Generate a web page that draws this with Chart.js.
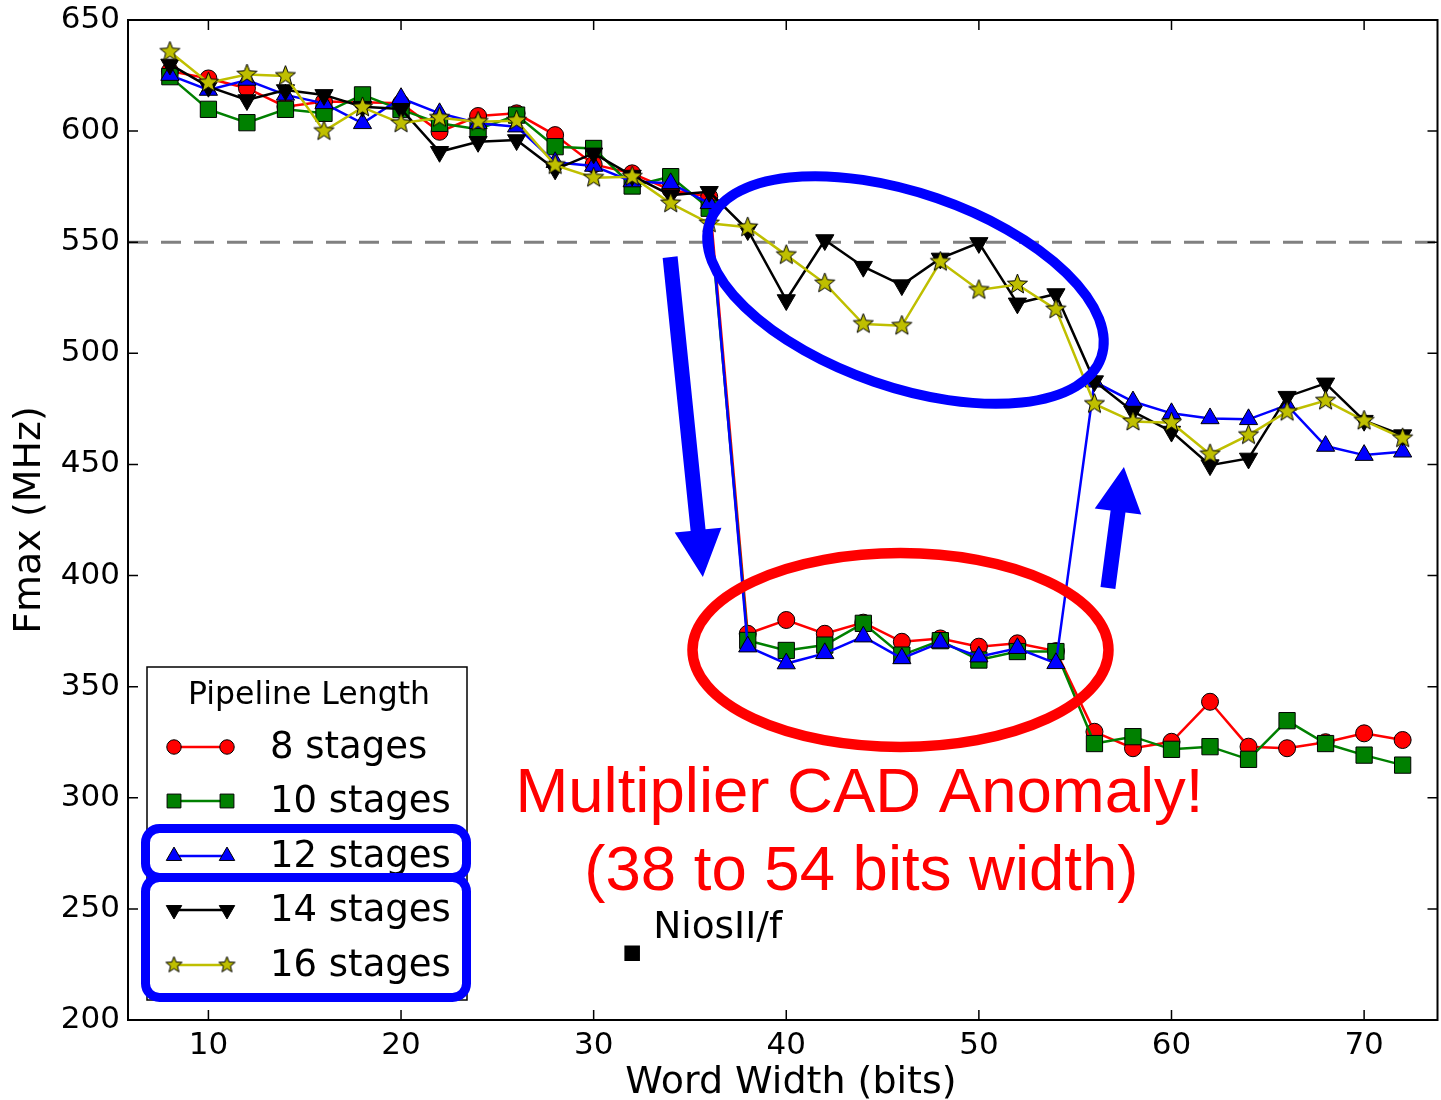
<!DOCTYPE html>
<html>
<head>
<meta charset="utf-8">
<script src="https://cdn.jsdelivr.net/npm/chart.js@4.4.1/dist/chart.umd.min.js"></script>
<style>
  html, body { margin: 0; padding: 0; background: #fff; overflow: hidden; }
</style>
</head>
<body>
<canvas id="fmaxChart" width="1450" height="1100"></canvas>
<script>
// word widths (bits)
const wordWidth = [8, 10, 12, 14, 16, 18, 20, 22, 24, 26, 28, 30, 32, 34, 36, 38, 40, 42, 44, 46, 48, 50, 52, 54, 56, 58, 60, 62, 64, 66, 68, 70, 72];

// Fmax (MHz) per pipeline length
const stages8 = [627, 623.7, 619.3, 611, 613.3, 613, 612.5, 599.7, 606.8, 608, 598.2, 585, 581, 573.5, 570.5,
  373.8, 380, 373.8, 378.8, 370.2, 371.7, 368, 369.5, 366,
  329.7, 322.3, 325.2, 343.2, 323, 322.3, 325, 329, 326];
const stages10 = [624.5, 609.8, 603.8, 609.8, 608, 616.3, 609.7, 603.5, 600.8, 607.2, 593, 592.2, 575.3, 579.5, 565.3,
  370.8, 366.3, 368.7, 378.5, 364.2, 370.7, 362, 365.8, 365.8,
  324.4, 327.5, 321.8, 323, 317.3, 334.7, 324.4, 319.2, 314.7];
const stages12 = [625.2, 618.5, 623, 616.3, 612.5, 603.5, 614.8, 608, 603.5, 602, 586, 584.3, 577.3, 576.5, 567.5,
  368, 360.4, 365, 372.5, 362.7, 369.8, 363.5, 367.3, 360.5,
  487.2, 478.3, 473, 470.7, 470.3, 476.7, 458.3, 454.2, 455.7];
const stages14 = [630, 620, 614, 618.5, 616.3, 611, 610, 590.7, 595.2, 596, 582.8, 590, 580, 571.2, 572.7,
  555.5, 524, 551, 539, 530.7, 542.7, 549.7, 522.5, 526.7,
  487.5, 473.8, 464.8, 449.7, 452.7, 480.5, 486.5, 469.7, 463.2];
const stages16 = [635.7, 621.8, 625.5, 624.8, 600, 610.7, 603.5, 606, 604.2, 604.7, 584.7, 579, 579.5, 567.5, 558.5,
  556.7, 544.2, 531.5, 513.2, 512.4, 541.2, 528.5, 531, 519.8,
  477.2, 469.3, 468.8, 454.6, 463.2, 473.7, 478.7, 469.7, 461.8];

const seriesLabels = ["8 stages", "10 stages", "12 stages", "14 stages", "16 stages"];

// NiosII/f reference point
const niosWidth = [32];
const niosFmax = [230];
const niosLabel = "NiosII/f";

// dashed reference line
const refFmax = 550;

const xTicks = [10, 20, 30, 40, 50, 60, 70];
const yTicks = [200, 250, 300, 350, 400, 450, 500, 550, 600, 650];

const FONT = "'DejaVu Sans', sans-serif";

function toPoints(xs, ys) {
  return xs.map((x, i) => ({ x: x, y: ys[i] }));
}

// filled star marker (Chart.js "star" is only an asterisk)
function makeStar(outer, fill) {
  const c = document.createElement("canvas");
  const s = Math.ceil(outer * 2 + 4);
  c.width = s;
  c.height = s;
  const g = c.getContext("2d");
  g.beginPath();
  for (let i = 0; i < 10; i++) {
    const r = i % 2 ? outer * 0.43 : outer;
    const a = -Math.PI / 2 + i * Math.PI / 5;
    g.lineTo(s / 2 + r * Math.cos(a), s / 2 + r * Math.sin(a));
  }
  g.closePath();
  g.fillStyle = fill;
  g.fill();
  g.strokeStyle = "#000";
  g.lineWidth = 1;
  g.stroke();
  return c;
}

const starBig = makeStar(10.5, "#bfbf00");
const starSmall = makeStar(8.5, "#bfbf00");

const styles = [
  { color: "#ff0000", fill: "#ff0000", point: "circle", radius: 8.5, rot: 0 },
  { color: "#008000", fill: "#008000", point: "rect", radius: 11.5, rot: 0 },
  { color: "#0000ff", fill: "#0000ff", point: "triangle", radius: 10.5, rot: 0 },
  { color: "#000000", fill: "#000000", point: "triangle", radius: 10.5, rot: 180 },
  { color: "#bfbf00", fill: "#bfbf00", point: starBig, radius: 10, rot: 0 }
];
const seriesData = [stages8, stages10, stages12, stages14, stages16];

const datasets = seriesData.map((vals, i) => ({
  label: seriesLabels[i],
  data: toPoints(wordWidth, vals),
  borderColor: styles[i].color,
  borderWidth: 2.5,
  backgroundColor: styles[i].fill,
  pointStyle: styles[i].point,
  pointRadius: styles[i].radius,
  pointRotation: styles[i].rot,
  pointBackgroundColor: styles[i].fill,
  pointBorderColor: "#000",
  pointBorderWidth: 1,
  tension: 0,
  order: 5 - i
}));

datasets.push({
  label: niosLabel,
  data: toPoints(niosWidth, niosFmax),
  showLine: false,
  pointStyle: "rect",
  pointRadius: 11,
  pointBackgroundColor: "#000",
  pointBorderColor: "#000",
  pointBorderWidth: 0,
  order: 0
});

// legend marker for the hand-drawn legend
function drawMarker(ctx, st, x, y, scale) {
  ctx.save();
  ctx.fillStyle = st.fill;
  ctx.strokeStyle = "#000";
  ctx.lineWidth = 1;
  ctx.beginPath();
  const r = st.radius * scale;
  if (st.point === "circle") {
    ctx.arc(x, y, r, 0, Math.PI * 2);
  } else if (st.point === "rect") {
    const h = r * Math.SQRT1_2;
    ctx.rect(x - h, y - h, 2 * h, 2 * h);
  } else if (st.point === "triangle") {
    const d = st.rot === 180 ? -1 : 1;
    for (let k = 0; k < 3; k++) {
      const a = k * 2 * Math.PI / 3;
      ctx.lineTo(x + Math.sin(a) * r, y - d * Math.cos(a) * r);
    }
    ctx.closePath();
  } else {
    ctx.drawImage(starSmall, x - starSmall.width / 2, y - starSmall.height / 2);
    ctx.restore();
    return;
  }
  ctx.fill();
  ctx.stroke();
  ctx.restore();
}

function drawArrow(ctx, x1, y1, x2, y2, shaftW, headW, headL) {
  const len = Math.hypot(x2 - x1, y2 - y1);
  const ux = (x2 - x1) / len, uy = (y2 - y1) / len;
  const nx = -uy, ny = ux;
  const bx = x2 - ux * headL, by = y2 - uy * headL;
  ctx.beginPath();
  ctx.moveTo(x1 + nx * shaftW / 2, y1 + ny * shaftW / 2);
  ctx.lineTo(bx + nx * shaftW / 2, by + ny * shaftW / 2);
  ctx.lineTo(bx + nx * headW / 2, by + ny * headW / 2);
  ctx.lineTo(x2, y2);
  ctx.lineTo(bx - nx * headW / 2, by - ny * headW / 2);
  ctx.lineTo(bx - nx * shaftW / 2, by - ny * shaftW / 2);
  ctx.lineTo(x1 - nx * shaftW / 2, y1 - ny * shaftW / 2);
  ctx.closePath();
  ctx.fill();
}

function roundRect(ctx, x, y, w, h, r) {
  ctx.beginPath();
  ctx.moveTo(x + r, y);
  ctx.arcTo(x + w, y, x + w, y + h, r);
  ctx.arcTo(x + w, y + h, x, y + h, r);
  ctx.arcTo(x, y + h, x, y, r);
  ctx.arcTo(x, y, x + w, y, r);
  ctx.closePath();
}

const decorPlugin = {
  id: "decor",
  beforeDatasetsDraw(chart) {
    const { ctx, chartArea: a, scales: { y } } = chart;
    const py = y.getPixelForValue(refFmax);
    ctx.save();
    ctx.strokeStyle = "#808080";
    ctx.lineWidth = 3;
    ctx.setLineDash([20, 13]);
    ctx.beginPath();
    ctx.moveTo(a.left, py);
    ctx.lineTo(a.right, py);
    ctx.stroke();
    ctx.restore();
  },
  afterDatasetsDraw(chart) {
    const { ctx, chartArea: a, scales: { x, y } } = chart;
    ctx.save();
    ctx.strokeStyle = "#000";
    ctx.lineWidth = 2;
    ctx.strokeRect(a.left, a.top, a.right - a.left, a.bottom - a.top);
    // inward ticks on all four sides
    ctx.lineWidth = 1.5;
    ctx.beginPath();
    xTicks.forEach(v => {
      const px = x.getPixelForValue(v);
      ctx.moveTo(px, a.bottom); ctx.lineTo(px, a.bottom - 10);
      ctx.moveTo(px, a.top); ctx.lineTo(px, a.top + 10);
    });
    yTicks.forEach(v => {
      const py = y.getPixelForValue(v);
      ctx.moveTo(a.left, py); ctx.lineTo(a.left + 10, py);
      ctx.moveTo(a.right, py); ctx.lineTo(a.right - 10, py);
    });
    ctx.stroke();

    // NiosII/f label
    ctx.fillStyle = "#000";
    ctx.font = "37.5px " + FONT;
    ctx.textAlign = "left";
    ctx.textBaseline = "alphabetic";
    ctx.fillText(niosLabel, x.getPixelForValue(niosWidth[0]) + 21, y.getPixelForValue(niosFmax[0]) - 15);
    ctx.restore();
  },
  afterDraw(chart) {
    const { ctx, chartArea: a, scales: { x, y } } = chart;
    ctx.save();

    // axis titles
    ctx.fillStyle = "#000";
    ctx.font = "38px " + FONT;
    ctx.textAlign = "center";
    ctx.textBaseline = "middle";
    ctx.fillText("Word Width (bits)", 791, 1083);
    ctx.save();
    ctx.translate(30, (a.top + a.bottom) / 2);
    ctx.rotate(-Math.PI / 2);
    ctx.font = "38px " + FONT;
    ctx.fillText("Fmax (MHz)", 0, 0);
    ctx.restore();

    // legend
    const lx = 147, ly = 667, lw = 320, lh = 333;
    ctx.fillStyle = "#fff";
    ctx.fillRect(lx, ly, lw, lh);
    ctx.strokeStyle = "#000";
    ctx.lineWidth = 1.5;
    ctx.strokeRect(lx, ly, lw, lh);
    ctx.fillStyle = "#000";
    ctx.font = "31.5px " + FONT;
    ctx.textAlign = "center";
    ctx.fillText("Pipeline Length", 309, 696);
    const rowY = [747, 801, 856, 910, 965];
    ctx.textAlign = "left";
    ctx.font = "37px " + FONT;
    seriesLabels.forEach((lab, i) => {
      const st = styles[i];
      ctx.strokeStyle = st.color;
      ctx.lineWidth = 2.5;
      ctx.beginPath();
      ctx.moveTo(174, rowY[i]);
      ctx.lineTo(227, rowY[i]);
      ctx.stroke();
      drawMarker(ctx, st, 174, rowY[i], 0.85);
      drawMarker(ctx, st, 227, rowY[i], 0.85);
      ctx.fillStyle = "#000";
      ctx.fillText(lab, 270, rowY[i] + 1);
    });

    // blue highlight boxes around 12/14/16 stages
    ctx.strokeStyle = "#0000ff";
    ctx.lineWidth = 9;
    roundRect(ctx, 145.5, 828.5, 321, 49, 14);
    ctx.stroke();
    roundRect(ctx, 145.5, 877.5, 321, 120, 14);
    ctx.stroke();

    // ellipses
    ctx.lineWidth = 10;
    ctx.beginPath();
    ctx.ellipse(x.getPixelForValue(46.19), y.getPixelForValue(528.5), 207, 97, 19 * Math.PI / 180, 0, Math.PI * 2);
    ctx.stroke();
    ctx.strokeStyle = "#ff0000";
    ctx.lineWidth = 10.5;
    ctx.beginPath();
    ctx.ellipse(x.getPixelForValue(45.93), y.getPixelForValue(366.5), 208, 97, 0, 0, Math.PI * 2);
    ctx.stroke();

    // arrows
    ctx.fillStyle = "#0000ff";
    drawArrow(ctx, x.getPixelForValue(33.97), y.getPixelForValue(543.3),
      x.getPixelForValue(35.67), y.getPixelForValue(399.4), 15, 47, 47);
    drawArrow(ctx, x.getPixelForValue(56.7), y.getPixelForValue(394.4),
      x.getPixelForValue(57.53), y.getPixelForValue(448.9), 15, 47, 45);

    // anomaly text
    ctx.fillStyle = "#ff0000";
    ctx.font = "63.5px 'Liberation Sans', Arial, sans-serif";
    ctx.textAlign = "center";
    ctx.textBaseline = "alphabetic";
    ctx.fillText("Multiplier CAD Anomaly!", x.getPixelForValue(43.8), y.getPixelForValue(293.6));
    ctx.fillText("(38 to 54 bits width)", x.getPixelForValue(43.9), y.getPixelForValue(258.5));
    ctx.restore();
  }
};

new Chart(document.getElementById("fmaxChart").getContext("2d"), {
  type: "line",
  data: { datasets: datasets },
  options: {
    responsive: false,
    animation: false,
    events: [],
    layout: { padding: { top: 20, right: 3, left: 0, bottom: 0 } },
    plugins: {
      legend: { display: false },
      tooltip: { enabled: false }
    },
    scales: {
      x: {
        type: "linear",
        min: 5.825,
        max: 73.81,
        afterBuildTicks: scale => { scale.ticks = xTicks.map(v => ({ value: v })); },
        afterFit: scale => { scale.height = 80; scale.paddingLeft = 0; scale.paddingRight = 0; },
        grid: { display: false, drawTicks: false },
        border: { display: false },
        ticks: { color: "#000", font: { family: FONT, size: 31 }, padding: 7, maxRotation: 0 }
      },
      y: {
        type: "linear",
        min: 200,
        max: 650,
        afterBuildTicks: scale => { scale.ticks = yTicks.map(v => ({ value: v })); },
        afterFit: scale => { scale.width = 128; scale.paddingTop = 0; scale.paddingBottom = 0; },
        grid: { display: false, drawTicks: false },
        border: { display: false },
        ticks: { color: "#000", font: { family: FONT, size: 31 }, padding: 8 }
      }
    }
  },
  plugins: [decorPlugin]
});
</script>
</body>
</html>
